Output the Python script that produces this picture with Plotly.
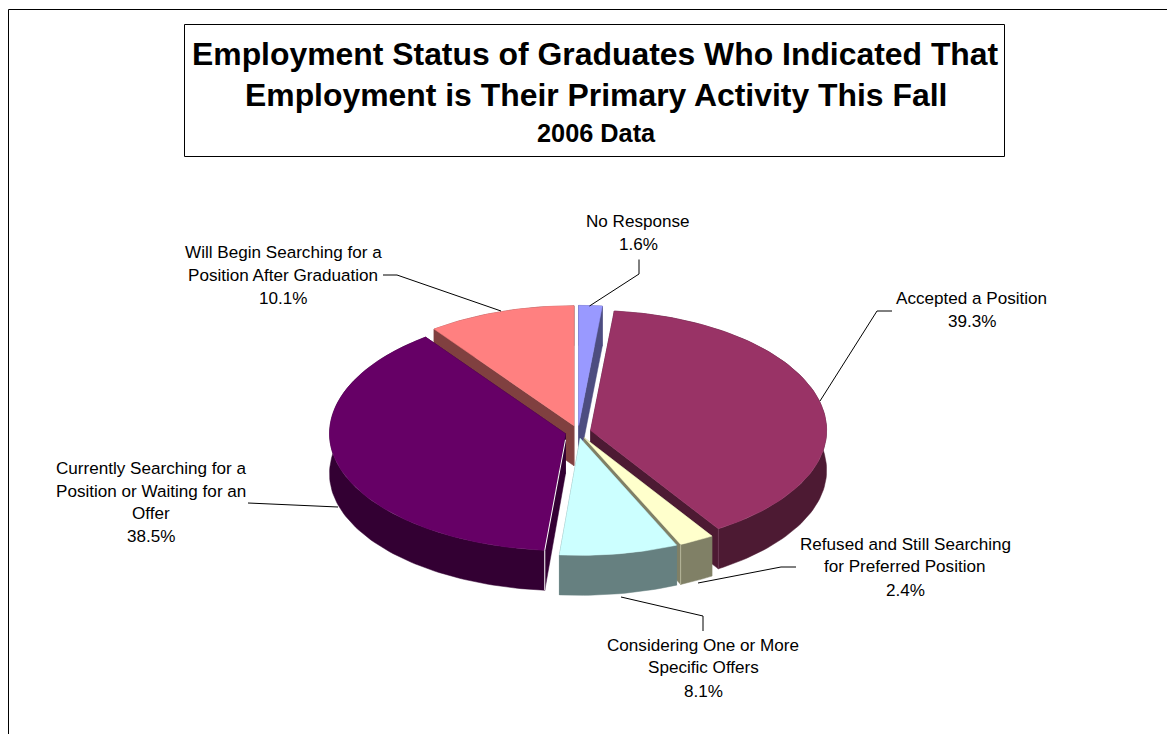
import math
import plotly.graph_objects as go

# ---- data ----
categories = ["No Response", "Accepted a Position", "Refused and Still Searching for Preferred Position",
              "Considering One or More Specific Offers",
              "Currently Searching for a Position or Waiting for an Offer",
              "Will Begin Searching for a Position After Graduation"]
values = [1.6, 39.3, 2.4, 8.1, 38.5, 10.1]
value_labels = ["1.6%", "39.3%", "2.4%", "8.1%", "38.5%", "10.1%"]
title_lines = ["Employment Status of Graduates Who Indicated That",
               "Employment is Their Primary Activity This Fall"]
subtitle = "2006 Data"

# ---- style ----
top_colors = ["#9999FF", "#993366", "#FFFFCC", "#CCFFFF", "#660066", "#FF8080"]
side_colors = ["#4D4D80", "#4D1A33", "#808066", "#668080", "#330033", "#804040"]
CX, CY, RX, RY_BACK, RY_FRONT, DEPTH, EXPLODE = 578.0, 432.0, 236.0, 120.0, 117.0, 40.0, 0.055
draw_order = [5, 0, 1, 4, 2, 3]
label_layout = [
    (638, [221, 244], ["No Response"]),
    (971.5, [298, 321], ["Accepted a Position"]),
    (905, [544, 566, 590], ["Refused and Still Searching", "for Preferred Position"]),
    (703, [645, 667, 691], ["Considering One or More", "Specific Offers"]),
    (151, [468, 491, 513, 536], ["Currently Searching for a", "Position or Waiting for an", "Offer"]),
    (283, [252, 275, 298], ["Will Begin Searching for a", "Position After Graduation"]),
]
leaders = [
    ([589.5, 639, 639], [306, 274, 259.5]),
    ([820, 877, 892], [401, 311, 311]),
    ([698, 781, 796], [583, 567, 567]),
    ([621, 703, 703], [597, 616, 631]),
    ([338, 248], [507, 503]),
    ([383, 397, 501], [275, 275, 311]),
]
FONT = "Liberation Sans"

fig = go.Figure()
total = sum(values)
starts, acc = [], 0.0
for v in values:
    starts.append(acc / total * 2 * math.pi)
    acc += v


def poly(xs, ys, color):
    fig.add_trace(go.Scatter(x=xs, y=ys, mode="lines", fill="toself", fillcolor=color,
                             line=dict(color=color, width=0.5), hoverinfo="skip", showlegend=False))


def seam(xs, ys, color):
    fig.add_trace(go.Scatter(x=xs, y=ys, mode="lines", line=dict(color=color, width=1),
                             hoverinfo="skip", showlegend=False))


def ry(t):
    return RY_BACK if math.cos(t) > 0 else RY_FRONT


for i in draw_order:
    a0 = starts[i]
    a1 = a0 + values[i] / total * 2 * math.pi
    mid = (a0 + a1) / 2
    tx = CX + EXPLODE * RX * math.sin(mid)
    ty = CY - EXPLODE * ry(mid) * math.cos(mid)
    n = max(4, int((a1 - a0) * 40))
    ang = [a0 + (a1 - a0) * k / n for k in range(n + 1)]
    ax = [tx + RX * math.sin(t) for t in ang]
    ay = [ty - ry(t) * math.cos(t) for t in ang]
    # radial walls
    poly([tx, ax[0], ax[0], tx, tx], [ty, ay[0], ay[0] + DEPTH, ty + DEPTH, ty], side_colors[i])
    poly([tx, ax[-1], ax[-1], tx, tx], [ty, ay[-1], ay[-1] + DEPTH, ty + DEPTH, ty], side_colors[i])
    # rim
    poly(ax + ax[::-1] + [ax[0]], ay + [y + DEPTH for y in ay[::-1]] + [ay[0]], side_colors[i])
    # top
    poly([tx] + ax + [tx], [ty] + ay + [ty], top_colors[i])
    # thin light seams where faces meet, as in the reference rendering
    if i == 4:
        seam([tx, ax[0], ax[0]], [ty + 6, ay[0], ay[0] + DEPTH], "white")
    elif i in (1, 2):
        seam([ax[-1], ax[-1]], [ay[-1], ay[-1] + DEPTH], "#B5B59A" if i == 2 else "#6E3A55")

for xs, ys in leaders:
    fig.add_trace(go.Scatter(x=xs, y=ys, mode="lines", line=dict(color="black", width=1),
                             hoverinfo="skip", showlegend=False))


def text(x, y, s, size, bold=False):
    fig.add_annotation(x=x, y=y, text=f"<b>{s}</b>" if bold else s, showarrow=False, xanchor="center",
                       yanchor="middle", font=dict(family=FONT, size=size, color="black"))


for (x, ys, lines), pct in zip(label_layout, value_labels):
    for y, s in zip(ys, lines + [pct]):
        text(x, y, s, 17.1)
text(595.5, 54, title_lines[0], 31.9, True)
text(595.5, 95, title_lines[1], 31.9, True)
text(596, 133, subtitle, 25.3, True)

fig.update_layout(
    width=1167, height=734, margin=dict(l=0, r=0, t=0, b=0),
    paper_bgcolor="white", plot_bgcolor="white", showlegend=False,
    xaxis=dict(range=[0, 1167], visible=False, fixedrange=True),
    yaxis=dict(range=[734, 0], visible=False, fixedrange=True),
    shapes=[
        dict(type="rect", x0=8.5, y0=9.5, x1=1190, y1=760, line=dict(color="black", width=1), layer="below"),
        dict(type="rect", x0=184.5, y0=24.5, x1=1004.5, y1=156.5, line=dict(color="black", width=1), layer="below"),
    ],
)
fig.write_html("out.html", config={"displayModeBar": False},
               post_script="document.body.style.margin='0';document.documentElement.style.overflow='hidden';")
